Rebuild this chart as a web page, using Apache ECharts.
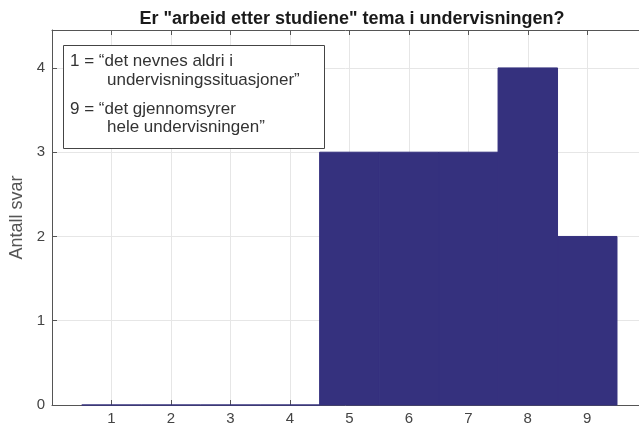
<!DOCTYPE html>
<html>
<head>
    <meta charset="utf-8">
    <title>Arbeid etter studiene</title>
    <script src="https://cdn.jsdelivr.net/npm/echarts@6/dist/echarts.min.js"></script>
</head>
<body style="margin:0">
<div id="chart" style="width: 639px; height: 428px;"></div>
<script>
    // svaralternativ 1-9 og antall svar
    var categories = [1, 2, 3, 4, 5, 6, 7, 8, 9];
    var counts = [0, 0, 0, 0, 3, 3, 3, 4, 2];
    var noteLines = [
        '1 = \u201cdet nevnes aldri i',
        'undervisningssituasjoner\u201d',
        '9 = \u201cdet gjennomsyrer',
        'hele undervisningen\u201d'
    ];

    var barColor = '#35317e';
    var axisColor = '#555';
    var font = 'Liberation Sans, Arial, Helvetica, sans-serif';

    var data = categories.map(function (c, i) { return [c, counts[i]]; });

    function intLabel(v) {
        return (v === Math.round(v)) ? String(v) : '';
    }

    var chart = echarts.init(document.getElementById('chart'));

    var option = {
        animation: false,
        title: {
            text: 'Er "arbeid etter studiene" tema i undervisningen?',
            left: 347,
            top: 5,
            textAlign: 'center',
            textStyle: { fontFamily: font, fontSize: 18, fontWeight: 'bold', color: '#1a1a1a' }
        },
        grid: { left: 52, right: 0, top: 30, bottom: 23, outerBoundsMode: 'none' },
        xAxis: [
            {
                type: 'value', min: 0, max: 9.87, interval: 1,
                axisLine: { lineStyle: { color: axisColor } },
                axisTick: { inside: true, length: 5, lineStyle: { color: axisColor } },
                axisLabel: {
                    margin: 6, fontFamily: font, fontSize: 15, color: '#444',
                    formatter: function (v) { return (v >= 1 && v <= 9) ? String(v) : ''; }
                },
                splitLine: { show: true, lineStyle: { color: '#e6e6e6' } }
            },
            {
                type: 'value', position: 'top', min: 0, max: 9.87, interval: 1,
                axisLine: { lineStyle: { color: axisColor } },
                axisTick: { inside: true, length: 5, lineStyle: { color: axisColor } },
                axisLabel: { show: false },
                splitLine: { show: false }
            }
        ],
        yAxis: {
            type: 'value', min: 0, max: 4.45, interval: 1,
            name: 'Antall svar',
            nameLocation: 'middle',
            nameGap: 26,
            nameMoveOverlap: false,
            nameTextStyle: { fontFamily: font, fontSize: 18, color: '#555' },
            axisLine: { show: true, lineStyle: { color: axisColor } },
            axisTick: { show: true, inside: true, length: 5, lineStyle: { color: axisColor } },
            axisLabel: { margin: 7, fontFamily: font, fontSize: 15, color: '#444', formatter: intLabel },
            splitLine: { show: true, lineStyle: { color: '#e6e6e6' } }
        },
        graphic: [
            {
                type: 'rect', left: 63, top: 45, z: 10,
                shape: { width: 261, height: 103 },
                style: { fill: '#fff', stroke: '#444', lineWidth: 1 }
            },
            { type: 'text', left: 70, top: 53, z: 11, style: { text: noteLines[0], font: '17px ' + font, fill: '#333' } },
            { type: 'text', left: 107, top: 72, z: 11, style: { text: noteLines[1], font: '17px ' + font, fill: '#333' } },
            { type: 'text', left: 70, top: 101, z: 11, style: { text: noteLines[2], font: '17px ' + font, fill: '#333' } },
            { type: 'text', left: 107, top: 119, z: 11, style: { text: noteLines[3], font: '17px ' + font, fill: '#333' } }
        ],
        series: [
            {
                type: 'custom',
                xAxisIndex: 0,
                encode: { x: 0, y: 1 },
                data: data,
                renderItem: function (params, api) {
                    var x = api.value(0), y = api.value(1);
                    var p0 = api.coord([x - 0.5, 0]);
                    var p1 = api.coord([x + 0.5, y]);
                    return {
                        type: 'rect',
                        shape: { x: p0[0], y: p1[1], width: p1[0] - p0[0], height: p0[1] - p1[1] },
                        style: { fill: barColor, stroke: barColor, lineWidth: 1 }
                    };
                }
            }
        ]
    };
    chart.setOption(option);
</script>
</body>
</html>
